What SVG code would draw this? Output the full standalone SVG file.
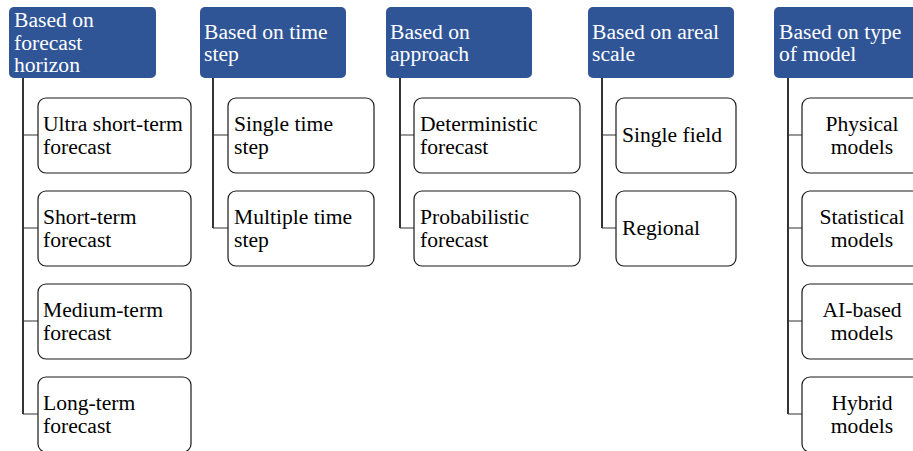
<svg xmlns="http://www.w3.org/2000/svg" width="913" height="451" viewBox="0 0 913 451">
<style>
.hd{fill:#2f5597;}
.bx{fill:#fff;stroke:#1a1a1a;stroke-width:1.2;}
.ht{font-family:"Liberation Serif","Times New Roman",serif;font-size:21.6px;fill:#fff;}
.ct{font-family:"Liberation Serif","Times New Roman",serif;font-size:21.6px;fill:#000;}
.mid{text-anchor:middle;}
.ln{stroke:#000;stroke-width:1.6;fill:none;}
.br{stroke:#333;stroke-width:1.2;fill:none;}
</style>
<rect width="913" height="451" fill="#fff"/>
<g id="connectors">
<path class="ln" d="M23,78V414"/>
<path class="br" d="M23,135H38M23,228H38M23,321H38M23,414H38"/>
<path class="ln" d="M213,78V228"/>
<path class="br" d="M213,135H228M213,228H228"/>
<path class="ln" d="M400,78V228"/>
<path class="br" d="M400,135H414M400,228H414"/>
<path class="ln" d="M602,78V228"/>
<path class="br" d="M602,135H616M602,228H616"/>
<path class="ln" d="M788,78V414"/>
<path class="br" d="M788,135H802M788,228H802M788,321H802M788,414H802"/>
</g>
<g id="h1"><rect class="hd" x="9" y="7" width="147" height="71" rx="5"/><text class="ht" x="14" y="27">Based on</text><text class="ht" x="14" y="49.5">forecast</text><text class="ht" x="14" y="72">horizon</text></g>
<g id="h2"><rect class="hd" x="200" y="7" width="146" height="71" rx="5"/><text class="ht" x="204" y="38.5">Based on time</text><text class="ht" x="204" y="61">step</text></g>
<g id="h3"><rect class="hd" x="386" y="7" width="146" height="71" rx="5"/><text class="ht" x="390" y="38.5">Based on</text><text class="ht" x="390" y="61">approach</text></g>
<g id="h4"><rect class="hd" x="588" y="7" width="146" height="71" rx="5"/><text class="ht" x="592" y="38.5">Based on areal</text><text class="ht" x="592" y="61">scale</text></g>
<g id="h5"><rect class="hd" x="774" y="7" width="147" height="71" rx="5"/><text class="ht" x="779" y="38.5">Based on type</text><text class="ht" x="779" y="61">of model</text></g>

<g id="c1a"><rect class="bx" x="38" y="98" width="153" height="75" rx="8"/><text class="ct" x="43" y="131">Ultra short-term</text><text class="ct" x="43" y="154">forecast</text></g>
<g id="c1b"><rect class="bx" x="38" y="191" width="153" height="75" rx="8"/><text class="ct" x="43" y="224">Short-term</text><text class="ct" x="43" y="247">forecast</text></g>
<g id="c1c"><rect class="bx" x="38" y="284" width="153" height="75" rx="8"/><text class="ct" x="43" y="317">Medium-term</text><text class="ct" x="43" y="340">forecast</text></g>
<g id="c1d"><rect class="bx" x="38" y="377" width="153" height="75" rx="8"/><text class="ct" x="43" y="410">Long-term</text><text class="ct" x="43" y="433">forecast</text></g>

<g id="c2a"><rect class="bx" x="228" y="98" width="146" height="75" rx="8"/><text class="ct" x="234" y="131">Single time</text><text class="ct" x="234" y="154">step</text></g>
<g id="c2b"><rect class="bx" x="228" y="191" width="146" height="75" rx="8"/><text class="ct" x="234" y="224">Multiple time</text><text class="ct" x="234" y="247">step</text></g>

<g id="c3a"><rect class="bx" x="414" y="98" width="166" height="75" rx="8"/><text class="ct" x="420" y="131">Deterministic</text><text class="ct" x="420" y="154">forecast</text></g>
<g id="c3b"><rect class="bx" x="414" y="191" width="166" height="75" rx="8"/><text class="ct" x="420" y="224">Probabilistic</text><text class="ct" x="420" y="247">forecast</text></g>

<g id="c4a"><rect class="bx" x="616" y="98" width="120" height="75" rx="8"/><text class="ct" x="622" y="142">Single field</text></g>
<g id="c4b"><rect class="bx" x="616" y="191" width="120" height="75" rx="8"/><text class="ct" x="622" y="235">Regional</text></g>

<g id="c5a"><rect class="bx" x="802" y="98" width="120" height="75" rx="8"/><text class="ct mid" x="862" y="131">Physical</text><text class="ct mid" x="862" y="154">models</text></g>
<g id="c5b"><rect class="bx" x="802" y="191" width="120" height="75" rx="8"/><text class="ct mid" x="862" y="224">Statistical</text><text class="ct mid" x="862" y="247">models</text></g>
<g id="c5c"><rect class="bx" x="802" y="284" width="120" height="75" rx="8"/><text class="ct mid" x="862" y="317">AI-based</text><text class="ct mid" x="862" y="340">models</text></g>
<g id="c5d"><rect class="bx" x="802" y="377" width="120" height="75" rx="8"/><text class="ct mid" x="862" y="410">Hybrid</text><text class="ct mid" x="862" y="433">models</text></g>
</svg>
